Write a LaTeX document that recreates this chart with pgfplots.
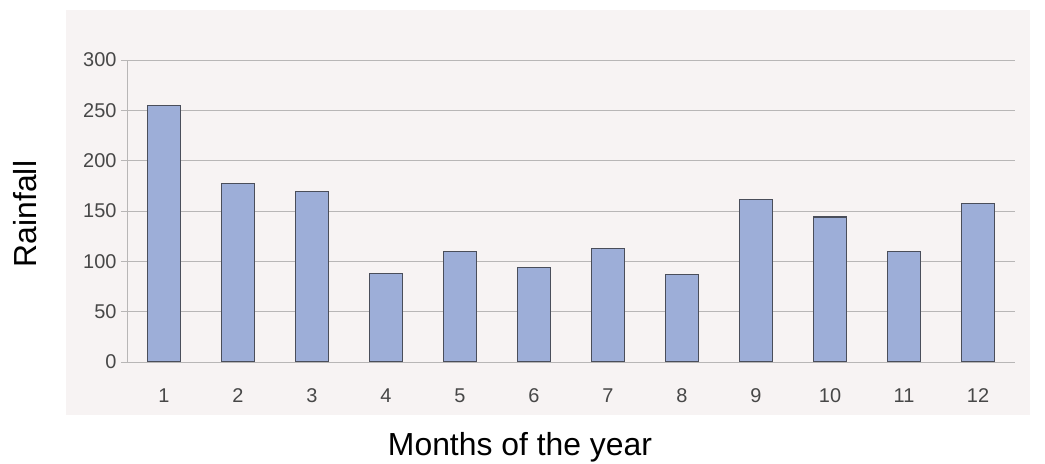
\documentclass[border=0pt]{standalone}
\usepackage{pgfplots}
\pgfplotsset{compat=1.18}
\usepackage{fontspec}
\setmainfont{Liberation Sans}
\definecolor{paper}{HTML}{F7F3F3}
\definecolor{barfill}{HTML}{9DAED8}
\definecolor{baredge}{HTML}{4A4E5A}
\definecolor{gridc}{HTML}{B8B6B6}
\begin{document}
\begin{tikzpicture}[x=1bp,y=1bp]
\useasboundingbox (0,0) rectangle (1045,464);
\fill[paper] (66,49) rectangle (1030,454);
\begin{axis}[
  at={(127bp,102bp)}, anchor=origin,
  scale only axis, width=888bp, height=302bp,
  xmin=0.5, xmax=12.5, ymin=0, ymax=300,
  xtick={1,...,12},
  extra x ticks={0.5,1.5,...,12.5},
  extra x tick labels={},
  extra x tick style={major tick length=6bp, tick style={gridc, line width=0.8pt}, tick align=outside, grid=none},
  major x tick style={draw=none},
  ytick={0,50,...,300},
  ymajorgrids,
  grid style={gridc, line width=0.8pt},
  axis x line*=bottom, axis y line*=left,
  axis line style={gridc, line width=0.8pt},
  y axis line style={-}, x axis line style={-},
  ytick style={gridc, line width=0.8pt},
  tick align=outside, major tick length=6bp,
  tick label style={font=\fontsize{20}{24}\selectfont, text=black!72},
  /pgf/number format/assume math mode=true,
  xticklabel style={yshift=-17bp},
  yticklabel style={xshift=-1bp},
  ylabel={Rainfall}, xlabel={Months of the year},
  label style={font=\fontsize{32}{38}\selectfont},
  ylabel style={at={(-102bp,148bp)}, anchor=center, rotate=0},
  xlabel style={at={(393bp,-85bp)}, anchor=center},
]
\addplot[ybar, bar width=33bp, fill=barfill, draw=baredge, line width=1.1pt]
  coordinates {(1,255) (2,177) (3,169) (4,88) (5,110) (6,94) (7,113) (8,87) (9,161) (10,144) (11,110) (12,157)};
\end{axis}
\end{tikzpicture}
\end{document}
